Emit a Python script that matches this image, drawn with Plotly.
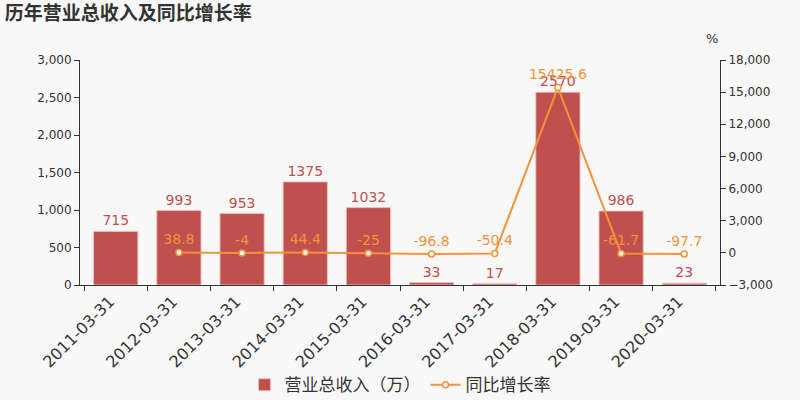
import plotly.graph_objects as go

categories = ["2011-03-31", "2012-03-31", "2013-03-31", "2014-03-31", "2015-03-31",
              "2016-03-31", "2017-03-31", "2018-03-31", "2019-03-31", "2020-03-31"]
revenue = [715, 993, 953, 1375, 1032, 33, 17, 2570, 986, 23]
growth = [None, 38.8, -4, 44.4, -25, -96.8, -50.4, 15425.6, -61.7, -97.7]
left_ticks = [0, 500, 1000, 1500, 2000, 2500, 3000]
right_ticks = [-3000, 0, 3000, 6000, 9000, 12000, 15000, 18000]

BAR = "#c0504d"
LINE = "#f7923a"
FONT = "DejaVu Sans, Noto Sans CJK SC"

fig = go.Figure()
fig.add_trace(go.Bar(
    x=categories, y=revenue, name="营业总收入（万）",
    marker=dict(color=BAR, line=dict(color="rgba(240,190,190,0.9)", width=1)),
    text=[str(v) for v in revenue], textposition="outside", cliponaxis=False,
    textfont=dict(color=BAR, size=14, family=FONT),
    yaxis="y",
))
fig.add_trace(go.Scatter(
    x=categories, y=growth, name="同比增长率", mode="lines+markers+text",
    line=dict(color=LINE, width=2),
    marker=dict(size=6, color="white", line=dict(color=LINE, width=1.5)),
    text=["" if g is None else ("%g" % g) for g in growth],
    textposition="top center", cliponaxis=False,
    textfont=dict(color=LINE, size=14, family=FONT),
    yaxis="y2",
))

fig.update_layout(
    width=800, height=400,
    paper_bgcolor="#f8f8f8", plot_bgcolor="#f8f8f8",
    font=dict(family=FONT, color="#333333"),
    margin=dict(l=80, r=80, t=60, b=115, autoexpand=False),
    bargap=0.3,
    showlegend=True,
    title=dict(text="<b>历年营业总收入及同比增长率</b>", x=0.006, xanchor="left",
               y=0.967, yanchor="middle", font=dict(size=19, color="#333333", family=FONT)),
    legend=dict(orientation="h", x=0.5, xanchor="center", y=-0.445, yanchor="middle",
                font=dict(size=17, color="#333333", family=FONT), bgcolor="rgba(0,0,0,0)"),
    xaxis=dict(type="category", tickangle=-45, tickfont=dict(size=16, color="#333333"),
               showline=True, linecolor="#333333", linewidth=1, ticks="outside",
               ticklen=5, tickcolor="#333333", tickson="boundaries", showgrid=False,
               automargin=False, ticklabelshift=-6),
    yaxis=dict(range=[0, 3000], tickvals=left_ticks, tickformat=",", showgrid=False,
               zeroline=False, showline=True, linecolor="#333333", ticks="outside",
               ticklen=5, tickcolor="#333333", tickfont=dict(size=12, color="#333333"),
               automargin=False),
    yaxis2=dict(range=[-3000, 18000], tickvals=right_ticks, tickformat=",", overlaying="y",
                side="right", showgrid=False, zeroline=False, showline=True,
                linecolor="#333333", ticks="outside", ticklen=5, tickcolor="#333333",
                tickfont=dict(size=12, color="#333333"), automargin=False),
    annotations=[dict(text="%", x=1.0, xref="paper", y=1 + 22 / 225, yref="paper",
                      yanchor="middle", showarrow=False,
                      font=dict(size=13, color="#333333"))],
)

fig.write_html("out.html", config={"displayModeBar": False},
               post_script="document.body.style.margin='0';document.body.style.overflow='hidden';")
